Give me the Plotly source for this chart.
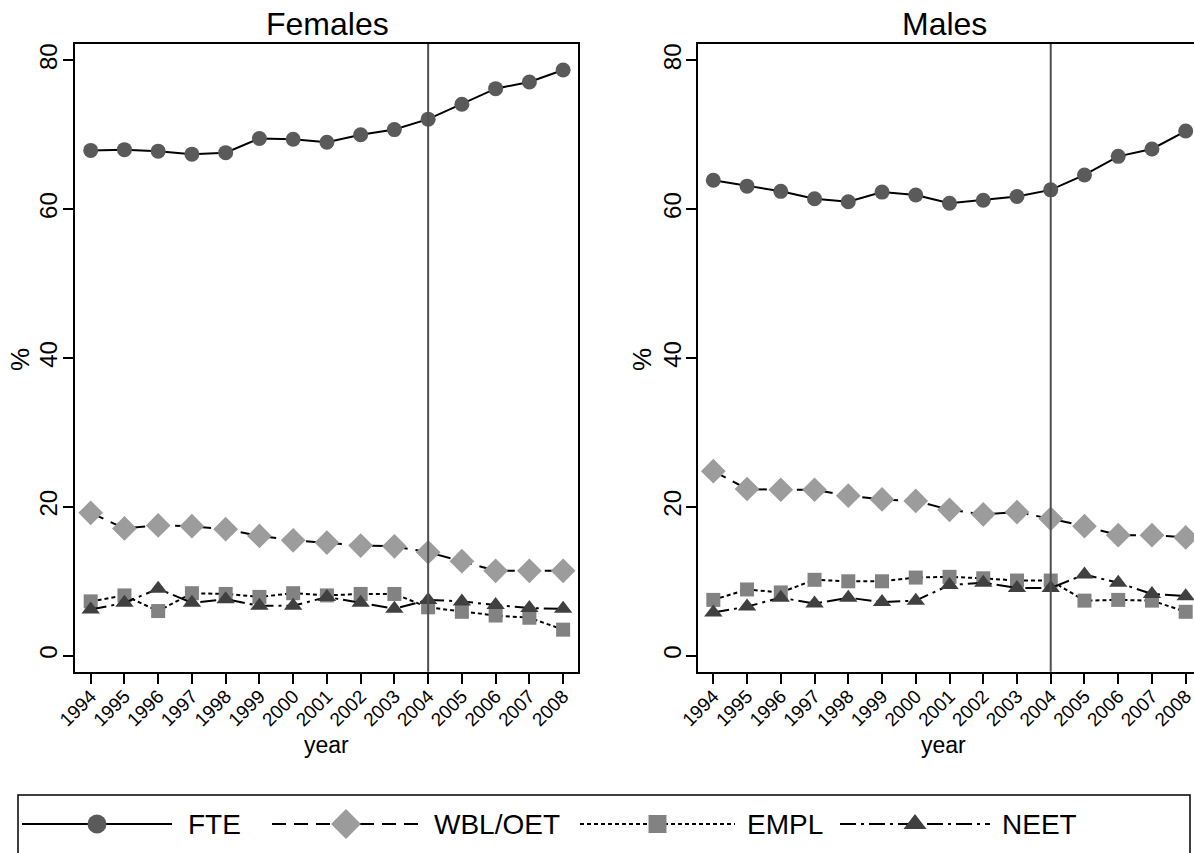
import plotly.graph_objects as go

# ---- data -------------------------------------------------------------
years = list(range(1994, 2009))
year_labels = [str(y) for y in years]
y_ticks = [0, 20, 40, 60, 80]
reform_year = 2004

fte_f = [67.9, 68.0, 67.8, 67.4, 67.6, 69.5, 69.4, 69.0, 70.0, 70.7, 72.1, 74.1, 76.2, 77.1, 78.7]
wbl_f = [19.2, 17.1, 17.5, 17.4, 17.0, 16.1, 15.5, 15.2, 14.8, 14.7, 13.9, 12.7, 11.4, 11.4, 11.4]
empl_f = [7.3, 8.1, 6.0, 8.4, 8.3, 7.9, 8.4, 8.1, 8.3, 8.3, 6.5, 5.9, 5.4, 5.1, 3.5]
neet_f = [6.2, 7.1, 9.0, 7.1, 7.6, 6.7, 6.7, 7.9, 7.1, 6.3, 7.5, 7.3, 6.8, 6.4, 6.3]

fte_m = [63.9, 63.1, 62.4, 61.4, 61.0, 62.3, 61.9, 60.8, 61.2, 61.7, 62.6, 64.6, 67.1, 68.1, 70.5]
wbl_m = [24.8, 22.4, 22.3, 22.3, 21.5, 21.0, 20.8, 19.6, 19.0, 19.3, 18.4, 17.4, 16.2, 16.2, 15.9]
empl_m = [7.5, 8.9, 8.5, 10.2, 10.0, 10.0, 10.5, 10.6, 10.4, 10.1, 10.1, 7.4, 7.5, 7.4, 5.9]
neet_m = [5.8, 6.6, 7.8, 7.0, 7.8, 7.2, 7.4, 9.5, 9.8, 9.1, 9.1, 10.9, 9.8, 8.3, 8.0]

series_names = ["FTE", "WBL/OET", "EMPL", "NEET"]
females = [fte_f, wbl_f, empl_f, neet_f]
males = [fte_m, wbl_m, empl_m, neet_m]

# ---- styling ----------------------------------------------------------
W, H = 1194, 853
FONT = "Liberation Sans, Arial, sans-serif"

styles = {
    "FTE": dict(dash="solid", symbol="circle", size=15, color="#5a5a5a"),
    "WBL/OET": dict(dash="14px,8px", symbol="diamond", size=19, color="#9c9c9c"),
    "EMPL": dict(dash="4px,3px", symbol="square", size=14, color="#828282"),
    "NEET": dict(dash="16px,5px,3px,5px", symbol="triangle-up", size=16, color="#404040"),
}


def px(x):
    return x / W


def py(y):
    return 1 - y / H


fig = go.Figure()

for axis_id, panel in (("", females), ("2", males)):
    for name, vals in zip(series_names, panel):
        st = styles[name]
        fig.add_trace(go.Scatter(
            x=years, y=vals, mode="lines+markers", name=name,
            xaxis="x" + axis_id, yaxis="y" + axis_id,
            line=dict(color="black", width=2, dash=st["dash"]),
            marker=dict(symbol=st["symbol"], size=st["size"], color=st["color"],
                        line=dict(width=0)),
            showlegend=False, cliponaxis=False,
        ))

# legend samples drawn in a pixel-space overlay axis
legend_items = [
    # name, line start, line end, text x
    ("FTE", 22, 172, 186),
    ("WBL/OET", 272, 420, 432),
    ("EMPL", 580, 735, 745),
    ("NEET", 840, 990, 1000),
]
legend_y = 824
for name, x0, x1, tx in legend_items:
    st = styles[name]
    fig.add_trace(go.Scatter(
        x=[x0, x1], y=[legend_y, legend_y], mode="lines",
        xaxis="x3", yaxis="y3",
        line=dict(color="black", width=2, dash=st["dash"]),
        showlegend=False, hoverinfo="skip", cliponaxis=False,
    ))
    fig.add_trace(go.Scatter(
        x=[(x0 + x1) / 2], y=[legend_y], mode="markers",
        xaxis="x3", yaxis="y3",
        marker=dict(symbol=st["symbol"], size=st["size"] + 4, color=st["color"],
                    line=dict(width=0)),
        showlegend=False, hoverinfo="skip", cliponaxis=False,
    ))

axis_common = dict(
    showline=True, linecolor="black", linewidth=2,
    ticks="outside", ticklen=10, tickwidth=1.5, tickcolor="black",
    showgrid=False, zeroline=False, automargin=False,
)

x_tick = dict(tickvals=years, ticktext=year_labels, tickangle=-45,
              tickfont=dict(size=19), ticklabeloverflow="allow",
              ticklabelstandoff=-6)
y_tick = dict(tickvals=y_ticks, tickangle=-90, tickfont=dict(size=24),
              ticklabelstandoff=-4)

y_dom = [py(671.7), py(44)]
y_rng = [-2.15, 82.2]

fig.update_layout(
    width=W, height=H,
    margin=dict(l=0, r=0, t=0, b=0),
    paper_bgcolor="white", plot_bgcolor="rgba(0,0,0,0)",
    font=dict(family=FONT, color="black"),
    xaxis=dict(**axis_common, **x_tick, domain=[px(75), px(578.3)],
               range=[1993.535, 2008.45], mirror=True, anchor="y"),
    yaxis=dict(**axis_common, **y_tick, domain=y_dom, range=y_rng,
               mirror=True, anchor="x"),
    xaxis2=dict(**axis_common, **x_tick, domain=[px(698.3), 1.0],
                range=[1993.555, 2008.246], mirror=True, anchor="y2"),
    yaxis2=dict(**axis_common, **y_tick, domain=y_dom, range=y_rng,
                mirror=False, anchor="x2"),
    xaxis3=dict(domain=[0, 1], range=[0, W], visible=False, fixedrange=True, anchor="y3"),
    yaxis3=dict(domain=[0, 1], range=[H, 0], visible=False, fixedrange=True, anchor="x3"),
)

# vertical reference line at the reform year
for xr, yr in (("x", "y domain"), ("x2", "y2 domain")):
    fig.add_shape(type="line", xref=xr, yref=yr, x0=reform_year, x1=reform_year,
                  y0=0, y1=1, line=dict(color="#505050", width=2), layer="above")

# legend frame
fig.add_shape(type="rect", xref="paper", yref="paper",
              x0=px(18), x1=px(1190), y0=-0.2, y1=py(795),
              line=dict(color="black", width=1.5), fillcolor="rgba(0,0,0,0)")

annotations = [
    dict(text="Females", x=px(327), y=py(24), font=dict(size=32)),
    dict(text="Males", x=px(944), y=py(24), font=dict(size=32)),
    dict(text="year", x=px(326), y=py(745), font=dict(size=23)),
    dict(text="year", x=px(943), y=py(745), font=dict(size=23)),
    dict(text="%", x=px(20), y=py(360), font=dict(size=26), textangle=-90),
    dict(text="%", x=px(642), y=py(360), font=dict(size=26), textangle=-90),
]
for a in annotations:
    fig.add_annotation(xref="paper", yref="paper", showarrow=False,
                       xanchor="center", yanchor="middle", **a)

for name, x0, x1, tx in legend_items:
    fig.add_annotation(text=name, xref="paper", yref="paper", x=px(tx), y=py(legend_y),
                       xanchor="left", yanchor="middle", showarrow=False,
                       font=dict(size=28))

fig.write_html("out.html")
